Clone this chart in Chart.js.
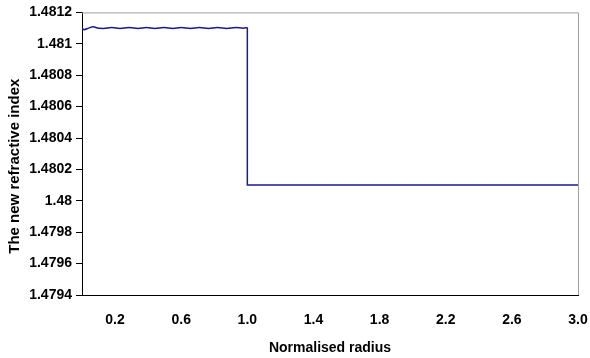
<!DOCTYPE html>
<html>
<head>
<meta charset="utf-8">
<script src="https://cdn.jsdelivr.net/npm/chart.js@4"></script>
<style>
  html, body { margin: 0; padding: 0; background: #ffffff; }
  #wrap { width: 590px; height: 358px; }
</style>
</head>
<body>
<div id="wrap"><canvas id="chart" width="590" height="358"></canvas></div>
<script>
// core region (r < 1): small ripple on the flat top
var coreRadius = [0, 0.012, 0.04, 0.067, 0.1, 0.13, 0.18, 0.23, 0.285, 0.34, 0.39, 0.44, 0.495,
                  0.55, 0.60, 0.655, 0.71, 0.765, 0.82, 0.875, 0.93, 0.975, 1.0];
var coreIndex  = [1.481098, 1.481090, 1.481100, 1.481108, 1.481099, 1.481098, 1.481104, 1.481098,
                  1.481104, 1.481098, 1.481104, 1.481098, 1.481104, 1.481098, 1.481104, 1.481098,
                  1.481104, 1.481098, 1.481104, 1.481098, 1.481104, 1.481099, 1.481104];

// step down to cladding and flat to the edge
var cladRadius = [1.0, 1.0, 3.0];
var cladIndex  = [1.481104, 1.4801, 1.4801];

// axis ticks
var xTickValues = [0.2, 0.6, 1.0, 1.4, 1.8, 2.2, 2.6, 3.0];
var yTickValues = [1.4794, 1.4796, 1.4798, 1.48, 1.4802, 1.4804, 1.4806, 1.4808, 1.481, 1.4812];

function toPoints(xs, ys) {
    var pts = [];
    for (var i = 0; i < xs.length; i++) {
        pts.push({ x: xs[i], y: ys[i] });
    }
    return pts;
}

var lineColor = '#1a1a8c';
var boldFont = { family: '"Liberation Sans", Arial, sans-serif', size: 14, weight: 'bold' };

// gray top/right frame around the plot area
var frame = {
    id: 'frame',
    afterDraw: function (chart) {
        var a = chart.chartArea;
        var ctx = chart.ctx;
        ctx.save();
        ctx.strokeStyle = '#a0a0a0';
        ctx.lineWidth = 1;
        ctx.beginPath();
        ctx.moveTo(a.left, a.top + 0.5);
        ctx.lineTo(a.right + 0.5, a.top + 0.5);
        ctx.lineTo(a.right + 0.5, a.bottom);
        ctx.stroke();
        ctx.restore();
    }
};

new Chart(document.getElementById('chart').getContext('2d'), {
    type: 'line',
    data: {
        datasets: [{
            data: toPoints(coreRadius, coreIndex),
            borderColor: lineColor,
            borderWidth: 1.5,
            pointRadius: 0,
            fill: false,
            cubicInterpolationMode: 'monotone'
        }, {
            data: toPoints(cladRadius, cladIndex),
            borderColor: lineColor,
            borderWidth: 1.5,
            pointRadius: 0,
            fill: false,
            tension: 0
        }]
    },
    options: {
        responsive: false,
        animation: false,
        layout: { padding: { top: 10, right: 0, left: 0, bottom: 0 } },
        plugins: {
            legend: { display: false },
            tooltip: { enabled: false }
        },
        scales: {
            x: {
                type: 'linear',
                min: 0,
                max: 3.0,
                afterBuildTicks: function (axis) {
                    axis.ticks = xTickValues.map(function (v) { return { value: v }; });
                },
                afterFit: function (axis) {
                    axis.height = 63;
                    axis.paddingLeft = 0;
                    axis.paddingRight = 12;
                },
                grid: { display: false },
                border: { display: true, color: '#000000', width: 1 },
                ticks: {
                    color: '#000000',
                    font: boldFont,
                    padding: 9,
                    maxRotation: 0,
                    autoSkip: false,
                    callback: function (v) { return Number(v).toFixed(1); }
                },
                title: {
                    display: true,
                    text: 'Normalised radius',
                    color: '#000000',
                    font: boldFont,
                    padding: { top: 6, bottom: 1 }
                }
            },
            y: {
                type: 'linear',
                min: 1.4794,
                max: 1.4812,
                afterBuildTicks: function (axis) {
                    axis.ticks = yTickValues.map(function (v) { return { value: v }; });
                },
                afterFit: function (axis) { axis.width = 82; },
                grid: {
                    display: true,
                    drawOnChartArea: false,
                    drawTicks: true,
                    tickLength: 6,
                    color: '#000000'
                },
                border: { display: true, color: '#000000', width: 1 },
                ticks: {
                    color: '#000000',
                    font: boldFont,
                    padding: 4,
                    autoSkip: false,
                    callback: function (v) { return String(parseFloat(Number(v).toFixed(4))); }
                },
                title: {
                    display: true,
                    // trailing spaces nudge the rotated title down like the original
                    text: 'The new refractive index      ',
                    color: '#000000',
                    font: { family: '"Liberation Sans", Arial, sans-serif', size: 15, weight: 'bold' },
                    padding: { top: 6, bottom: 0 }
                }
            }
        }
    },
    plugins: [frame]
});
</script>
</body>
</html>
